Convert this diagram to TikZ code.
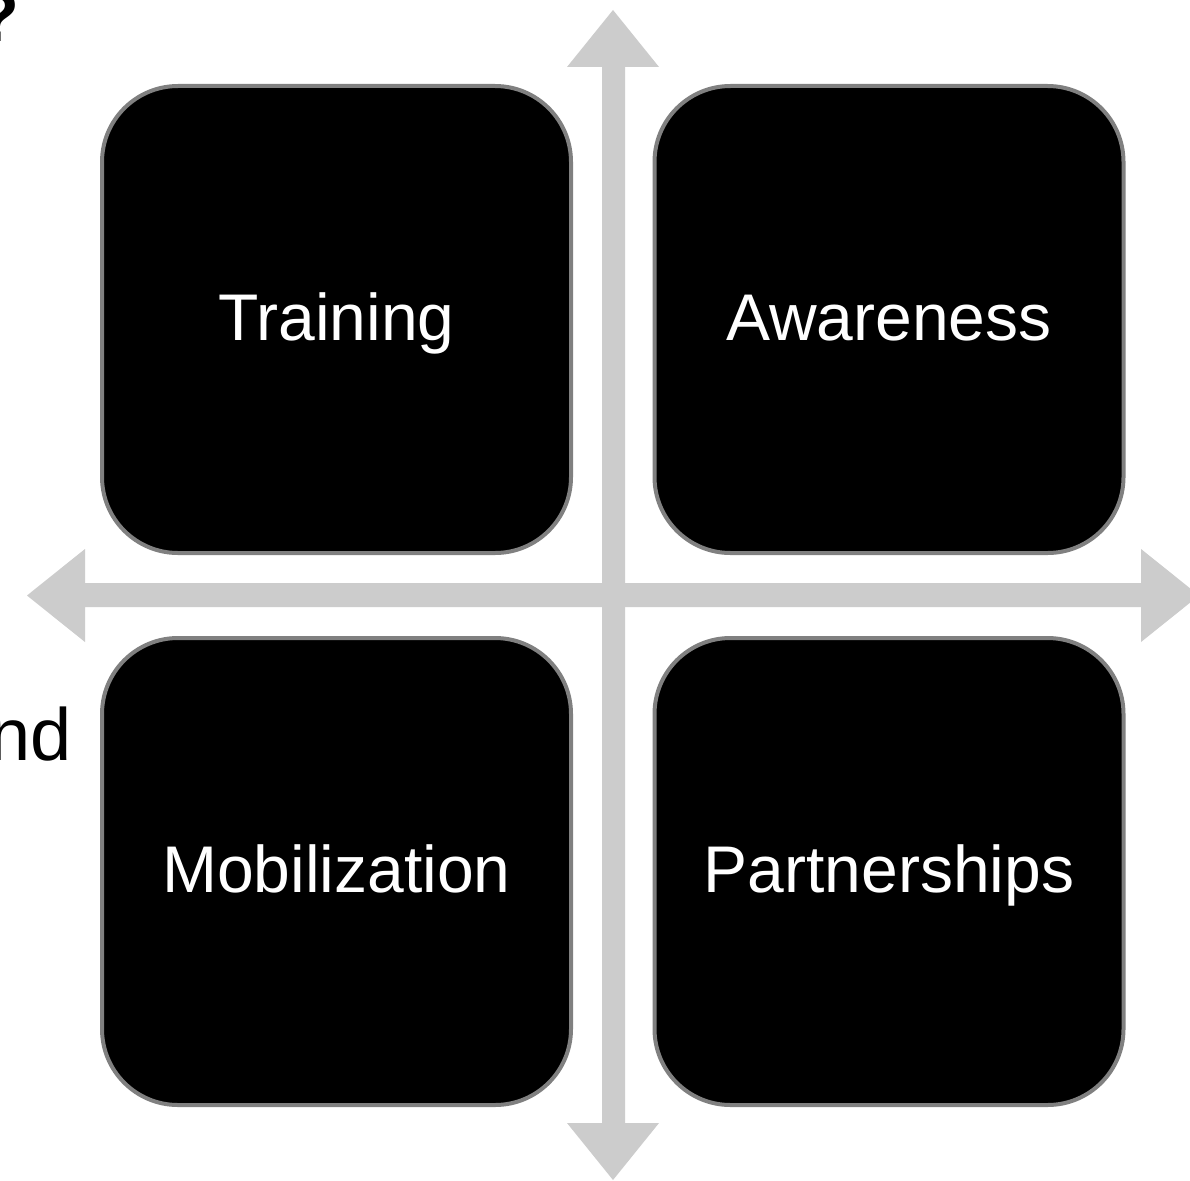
\documentclass[tikz,border=0pt]{standalone}
\usepackage{fontspec}
\setmainfont{Liberation Sans}
\definecolor{axisgray}{HTML}{CCCCCC}
\definecolor{rimgray}{HTML}{808080}
\tikzset{
  quad/.style={draw=rimgray, line width=4pt, fill=black, rounded corners=76pt,
    minimum width=469pt, minimum height=467pt, inner sep=0pt,
    text height=48pt, text depth=7pt,
    text=white, font=\fontsize{66}{79}\selectfont},
  axisfill/.style={fill=axisgray, draw=none},
}
\begin{document}
\begin{tikzpicture}[x=1pt,y=-1pt]
\useasboundingbox (0,0) rectangle (1190,1180);
\clip (0,0) rectangle (1190,1180);
\fill[white] (0,0) rectangle (1190,1180);
% axes
\fill[axisfill] (602,67) -- (567,67) -- (613,10) -- (659,67) -- (625,67)
  -- (625,1123) -- (659,1123) -- (613,1180) -- (567,1123) -- (602,1123) -- cycle;
\fill[axisfill] (85,583) -- (85,549) -- (27,595.5) -- (85,642) -- (85,607)
  -- (1141,607) -- (1141,642) -- (1199,595.5) -- (1141,549) -- (1141,583) -- cycle;
% quadrants
\node[quad] (training) at (336.5,319.5) {Training};
\node[quad] (awareness) at (889,319.5) {Awareness};
\node[quad] (mobilization) at (336.5,871.5) {Mobilization};
\node[quad] (partnerships) at (889,871.5) {Partnerships};
% clipped slide text
\node[anchor=base east, inner sep=0pt, font=\fontsize{74}{88}\selectfont] (nd) at (72,760) {nd};
\node[anchor=base east, inner sep=0pt, font=\bfseries\fontsize{72}{86}\selectfont] (qm) at (20,42) {?};
\end{tikzpicture}
\end{document}
